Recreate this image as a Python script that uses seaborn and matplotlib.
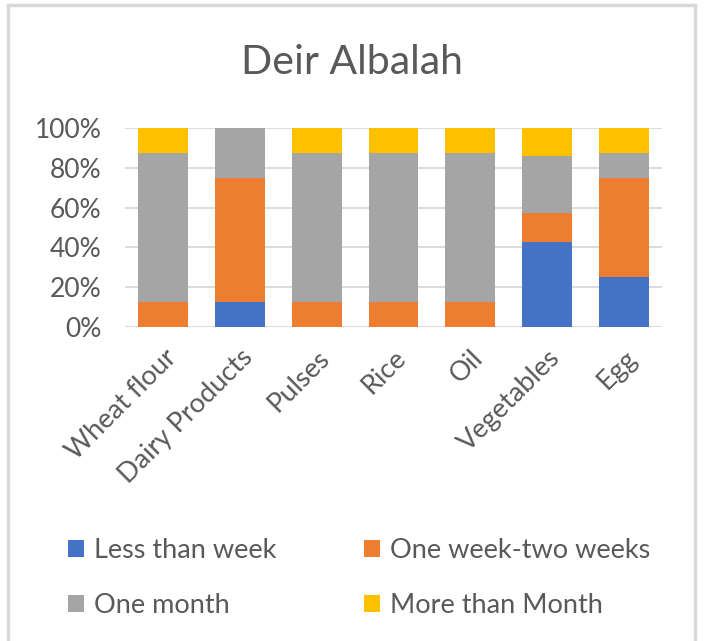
import matplotlib
matplotlib.use("Agg")
import matplotlib.pyplot as plt
import seaborn as sns
import numpy as np
from matplotlib.patches import Rectangle, Patch
from matplotlib.ticker import PercentFormatter

categories = ["Wheat flour", "Dairy Products", "Pulses", "Rice", "Oil", "Vegetables", "Egg"]
series_names = ["Less than week", "One week-two weeks", "One month", "More than Month"]
less_than_week = [0.0, 12.5, 0.0, 0.0, 0.0, 42.9, 25.0]
one_to_two_weeks = [12.5, 62.5, 12.5, 12.5, 12.5, 14.3, 50.0]
one_month = [75.0, 25.0, 75.0, 75.0, 75.0, 28.6, 12.5]
more_than_month = [12.5, 0.0, 12.5, 12.5, 12.5, 14.2, 12.5]
colors = ["#4472C4", "#ED7D31", "#A5A5A5", "#FFC000"]

sns.set_theme(style="white")
plt.rcParams["font.family"] = ["Lato", "DejaVu Sans"]
text_color = "#595959"

fig = plt.figure(figsize=(7.04, 6.41), dpi=100)
fig.patch.set_facecolor("white")
ax = fig.add_axes([125/704, 1-327/641, (662-125)/704, (327-128)/641])

series = [less_than_week, one_to_two_weeks, one_month, more_than_month]
bottom = np.zeros(len(categories))
for name, vals, c in zip(series_names, series, colors):
    sns.barplot(x=categories, y=vals, bottom=bottom, color=c, width=0.65,
                ax=ax, saturation=1, zorder=3, linewidth=0)
    bottom = bottom + np.array(vals)

ax.set_ylim(0, 100)
ax.set_yticks([0, 20, 40, 60, 80, 100])
ax.yaxis.set_major_formatter(PercentFormatter(decimals=0))
ax.grid(axis="y", color="#D9D9D9", linewidth=1.3, zorder=0)
ax.grid(axis="x", visible=False)
for s in ax.spines.values():
    s.set_visible(False)
ax.tick_params(axis="y", length=0, labelsize=19, colors=text_color, pad=17)
ax.tick_params(axis="x", length=0, labelsize=19.5, colors=text_color, pad=13)
ax.set_xticks(range(len(categories)))
ax.set_xticklabels(categories, rotation=45, ha="right", rotation_mode="anchor")
ax.set_xlim(-0.5, len(categories) - 0.5)

fig.text(352/704, 1-62/641, "Deir Albalah", ha="center", va="center",
         fontsize=29.5, color=text_color)

# row-wise legend order for a 2-column legend
order = [0, 2, 1, 3]
handles = [Patch(facecolor=colors[i], edgecolor="none") for i in order]
labels = [series_names[i] for i in order]
leg = fig.legend(handles, labels, ncol=2, loc="upper left",
                 bbox_to_anchor=(68/704, 1-538/641), frameon=False,
                 fontsize=19.5, labelcolor=text_color, handlelength=0.6,
                 handleheight=0.6, handletextpad=0.35, columnspacing=3.25,
                 labelspacing=1.1, borderaxespad=0, borderpad=0)

fig.add_artist(Rectangle((8/704, -0.01), (695-8)/704, 1-5/641+0.01,
                         transform=fig.transFigure, fill=False,
                         edgecolor="#D9D9D9", linewidth=2.5))

fig.savefig("out.png", dpi=100, facecolor="white")
